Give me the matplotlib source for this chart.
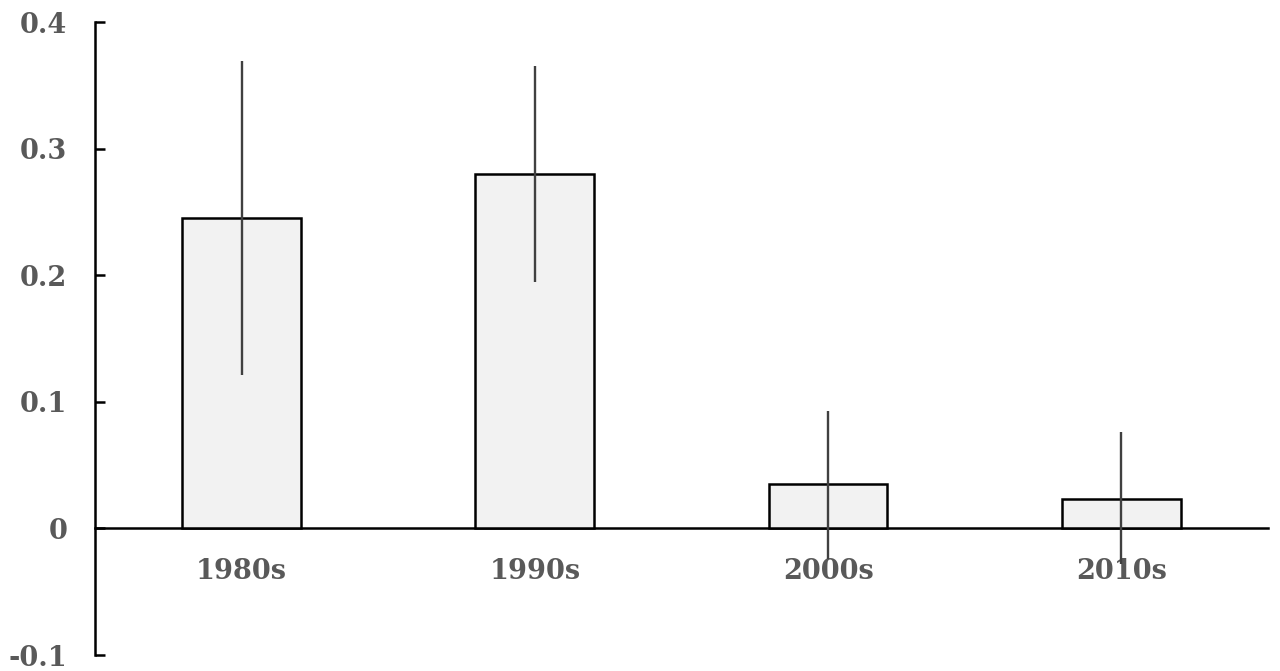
import matplotlib
matplotlib.use("Agg")
import matplotlib.pyplot as plt

categories = ["1980s", "1990s", "2000s", "2010s"]
values = [0.245, 0.280, 0.035, 0.023]
err_upper = [0.369, 0.365, 0.093, 0.076]
err_lower = [0.121, 0.195, -0.024, -0.028]
yticks = [-0.1, 0, 0.1, 0.2, 0.3, 0.4]
ytick_labels = ["-0.1", "0", "0.1", "0.2", "0.3", "0.4"]

fig = plt.figure(figsize=(12.8, 6.71), dpi=100)
ax = fig.add_axes([0.0742, 0.0238, 0.9164, 0.9434])

x = list(range(len(categories)))
ax.bar(x, values, width=0.405, color="#f2f2f2", edgecolor="black", linewidth=1.8, zorder=2)
ax.vlines(x, err_lower, err_upper, color="#404040", linewidth=1.7, zorder=3)

ax.set_xlim(-0.5, len(categories) - 0.5)
ax.set_ylim(-0.1, 0.4)
ax.set_yticks(yticks)
ax.set_yticklabels(ytick_labels)
ax.set_xticks(x)
ax.set_xticklabels(categories)

for s in ["top", "right"]:
    ax.spines[s].set_visible(False)
ax.spines["left"].set_linewidth(1.8)
ax.spines["bottom"].set_linewidth(1.8)
ax.spines["bottom"].set_position(("data", 0))
ax.spines["bottom"].set_zorder(1)

ax.tick_params(axis="y", direction="in", length=7, width=1.8, pad=20)
ax.tick_params(axis="x", length=0, pad=21)
for lab in ax.get_yticklabels() + ax.get_xticklabels():
    lab.set_fontfamily("DejaVu Serif")
    lab.set_fontweight("bold")
    lab.set_fontsize(19.5)
    lab.set_color("#595959")

fig.savefig("out.png", dpi=100)
